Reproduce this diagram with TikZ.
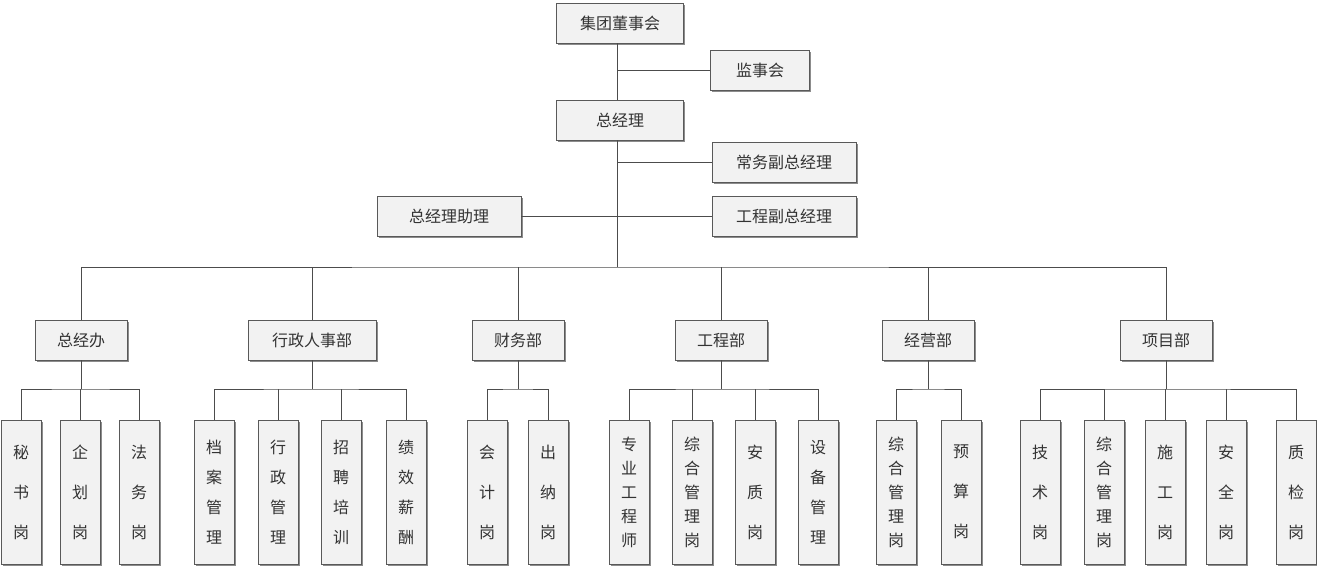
\documentclass[tikz,border=0pt]{standalone}
\usepackage{fontspec}
\newfontfamily\cjk{Noto Sans CJK SC}
\usetikzlibrary{shadows}
\tikzset{every picture/.style={line width=0.75pt}}
\tikzset{
  box/.style={draw=black!65, fill=black!5, minimum height=40pt, inner sep=0pt,
    font=\cjk\fontsize{16}{16}\selectfont, text=black!80,
    drop shadow={shadow xshift=1.5pt, shadow yshift=-1.5pt, fill=black!45, opacity=1}},
  post/.style={box, minimum width=40pt, minimum height=144pt, align=center},
  three/.style={post, font=\cjk\fontsize{16}{40}\selectfont},
  four/.style={post, font=\cjk\fontsize{16}{30}\selectfont},
  five/.style={post, font=\cjk\fontsize{16}{24}\selectfont},
  wire/.style={draw=black!70}
}
\begin{document}
\begin{tikzpicture}[x=1pt, y=-1pt]
          \useasboundingbox (0,0) rectangle (1317,566);
          % Top levels:
          \node[box, minimum width=127pt](board) at (620, 23){集团董事会};
          \node[box, minimum width=99pt](super) at (760, 70){监事会};
          \node[box, minimum width=127pt](gm) at (620, 120){总经理};
          \node[box, minimum width=144pt](vp1) at (784, 162){常务副总经理};
          \node[box, minimum width=144pt](vp2) at (784, 216){工程副总经理};
          \node[box, minimum width=144pt](asst) at (449, 216){总经理助理};
          \coordinate (trunk) at (617, 267);
          \draw[wire] (617, 43) -- (617, 100);
          \draw[wire] (617, 70) -- (super.west);
          \draw[wire] (617, 140) -- (trunk);
          \draw[wire] (617, 162) -- (vp1.west);
          \draw[wire] (asst.east) -- (vp2.west);
          % Departments:
          \node[box, minimum width=92pt](d1) at (81, 340){总经办};
          \node[box, minimum width=128pt](d2) at (312, 340){行政人事部};
          \node[box, minimum width=92pt](d3) at (518, 340){财务部};
          \node[box, minimum width=92pt](d4) at (721, 340){工程部};
          \node[box, minimum width=92pt](d5) at (928, 340){经营部};
          \node[box, minimum width=92pt](d6) at (1166, 340){项目部};
          \draw[wire] (d1.north) |- (trunk) -| (d6.north);
          \foreach \d in {d2,d3,d4,d5}
            \draw[wire] (\d.north) -- (\d.north |- trunk);
          % Posts:
          \node[three](p1) at (21, 492){秘\\书\\岗};
          \node[three](p2) at (80, 492){企\\划\\岗};
          \node[three](p3) at (139, 492){法\\务\\岗};
          \node[four](p4) at (214, 492){档\\案\\管\\理};
          \node[four](p5) at (278, 492){行\\政\\管\\理};
          \node[four](p6) at (341, 492){招\\聘\\培\\训};
          \node[four](p7) at (406, 492){绩\\效\\薪\\酬};
          \node[three](p8) at (487, 492){会\\计\\岗};
          \node[three](p9) at (548, 492){出\\纳\\岗};
          \node[five](p10) at (629, 492){专\\业\\工\\程\\师};
          \node[five](p11) at (692, 492){综\\合\\管\\理\\岗};
          \node[three](p12) at (755, 492){安\\质\\岗};
          \node[four](p13) at (818, 492){设\\备\\管\\理};
          \node[five](p14) at (896, 492){综\\合\\管\\理\\岗};
          \node[three](p15) at (961, 492){预\\算\\岗};
          \node[three](p16) at (1040, 492){技\\术\\岗};
          \node[five](p17) at (1104, 492){综\\合\\管\\理\\岗};
          \node[three](p18) at (1165, 492){施\\工\\岗};
          \node[three](p19) at (1226, 492){安\\全\\岗};
          \node[three](p20) at (1296, 492){质\\检\\岗};
          \foreach \d/\a/\b in {d1/p1/p3, d2/p4/p7, d3/p8/p9, d4/p10/p13, d5/p14/p15, d6/p16/p20}{
            \draw[wire] (\d.south) -- (\d.south |- 0,389);
            \draw[wire] (\a.north) |- (\d.south |- 0,389) -| (\b.north);
          }
          \foreach \p in {p2,p5,p6,p11,p12,p17,p18,p19}
            \draw[wire] (\p.north) -- (\p.north |- 0,389);
        \end{tikzpicture}
\end{document}
